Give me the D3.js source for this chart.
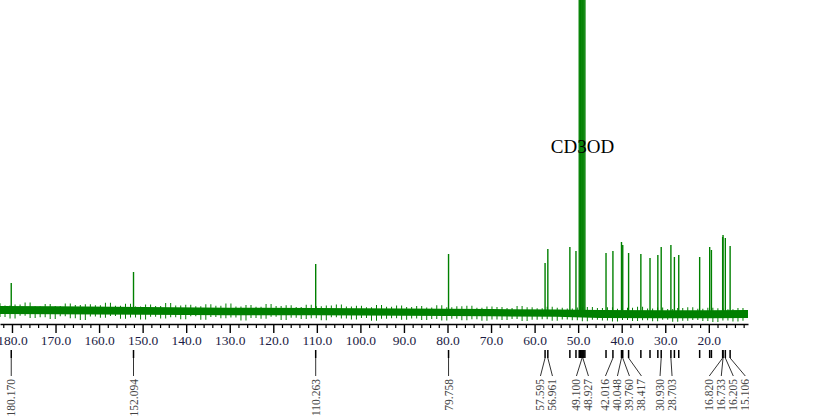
<!DOCTYPE html>
<html>
<head>
<meta charset="utf-8">
<script src="https://d3js.org/d3.v7.min.js"></script>
<style>
body { margin: 0; background: white; }
text { font-family: "Liberation Serif", "Times New Roman", serif; }
</style>
</head>
<body onload="init()">
<div id="dataviz"></div>

<script>
// peaks: shift (ppm) and height (arbitrary units, baseline = 0)
var peakPpm    = [180.170, 152.094, 110.263, 79.758, 57.595, 56.961, 51.9, 50.5,
                  49.75, 49.50, 49.30, 49.100, 48.927, 48.70, 48.45,
                  43.6, 42.016, 40.048, 39.760, 38.417, 35.6, 33.5, 31.7, 30.930,
                  28.703, 27.9, 26.9, 22.1, 19.8, 19.4, 16.820, 16.733, 16.205, 15.106];
var peakHeight = [11.2, 15.6, 18.8, 22.8, 19.2, 24.8, 25.6, 24.0,
                  200, 260, 300, 320, 320, 280, 200,
                  23.2, 24.0, 27.6, 26.4, 23.2, 22.8, 21.2, 22.4, 25.6,
                  26.4, 21.6, 22.4, 21.6, 25.6, 24.4, 29.6, 30.4, 29.2, 26.0];

// peaks that carry a printed value under the axis
var labelPpm  = [180.170, 152.094, 110.263, 79.758, 57.595, 56.961, 49.100, 48.927,
                 42.016, 40.048, 39.760, 38.417, 30.930, 28.703, 16.820, 16.733, 16.205, 15.106];
var labelText = ["180.170", "152.094", "110.263", "79.758", "57.595", "56.961", "49.100", "48.927",
                 "42.016", "40.048", "39.760", "38.417", "30.930", "28.703", "16.820", "16.733", "16.205", "15.106"];

// axis ticks
var majorTicks = [180, 170, 160, 150, 140, 130, 120, 110, 100, 90, 80, 70, 60, 50, 40, 30, 20];

// baseline noise band (core), and noise samples across the spectrum
var bandPpm = [183, 170, 150, 130, 110, 90, 70, 55, 45, 30, 20, 11];
var bandTop = [2.0, 1.9, 1.6, 1.3, 1.2, 1.0, 0.8, 0.6, 0.4, 0.3, 0.3, 0.4];
var bandBot = [-1.2, -1.3, -1.5, -1.7, -1.7, -1.9, -2.1, -2.3, -2.8, -2.9, -2.9, -2.8];
var noise = [
  3.1, -2.4, 2.2, -3.0, 2.6, -1.9, 3.4, -2.8, 1.9, -2.5,
  2.8, -3.2, 2.0, -2.1, 3.0, -2.9, 2.4, -3.6, 2.7, -2.2,
  2.3, -2.7, 3.3, -2.0, 2.1, -3.1, 2.9, -2.6, 1.8, -3.4,
  2.6, -2.3, 2.0, -3.0, 3.2, -2.5, 2.2, -3.3, 2.5, -2.1,
  1.9, -3.5, 2.7, -2.4, 2.1, -2.9, 3.0, -2.6, 1.8, -3.8,
  2.4, -2.8, 1.7, -3.1, 2.8, -2.3, 2.0, -3.6, 2.3, -2.7,
  1.6, -3.2, 2.5, -2.9, 1.9, -3.7, 2.2, -2.5, 2.6, -3.0,
  1.8, -3.4, 2.1, -2.8, 1.5, -3.9, 2.4, -3.1, 1.7, -2.9,
  2.2, -3.5, 1.6, -3.0, 2.0, -3.6, 1.4, -3.2, 2.3, -3.8,
  1.5, -3.1, 1.9, -3.7, 2.1, -3.3, 1.3, -3.9, 1.8, -3.4,
  1.6, -3.6, 1.2, -3.2, 2.0, -4.0, 1.5, -3.5, 1.1, -3.3,
  1.7, -3.9, 1.3, -3.4, 1.0, -3.7, 1.4, -4.1, 1.6, -3.5,
  1.2, -3.8, 1.5, -4.2, 0.9, -3.6, 1.3, -4.0, 1.7, -3.7,
  1.0, -4.1, 1.4, -3.5, 0.8, -4.3, 1.2, -3.9, 1.5, -3.6,
  0.9, -4.0, 1.3, -4.4, 1.1, -3.8, 0.7, -4.2, 1.2, -3.9
];

function init() {
  var width = 833, height = 420;
  var green = "#008000";

  var svg = d3.select("#dataviz")
    .append("svg")
    .attr("width", width)
    .attr("height", height);

  // everything right of the plot edge is cut off
  svg.append("clipPath").attr("id", "clip")
    .append("rect").attr("x", 0).attr("y", 0).attr("width", 749).attr("height", height);

  var g = svg.append("g").attr("clip-path", "url(#clip)");

  var xscale = d3.scaleLinear().domain([182.75, 11]).range([0, 748]);
  var yscale = d3.scaleLinear().domain([0, 120]).range([311, 11]);

  // noise band core
  var band = bandPpm.map(function(p, i) { return {ppm: p, top: bandTop[i], bot: bandBot[i]}; });
  g.append("path")
    .datum(band)
    .attr("fill", green)
    .attr("d", d3.area()
      .x(function(d) { return xscale(d.ppm); })
      .y0(function(d) { return yscale(d.bot); })
      .y1(function(d) { return yscale(d.top); }));

  // noise samples as thin vertical strokes between neighbouring samples
  var step = (182.75 - 11) / (noise.length - 1);
  g.selectAll("line.noise")
    .data(noise.slice(0, -1))
    .enter().append("line")
    .attr("class", "noise")
    .attr("x1", function(d, i) { return xscale(182.75 - i * step); })
    .attr("x2", function(d, i) { return xscale(182.75 - i * step); })
    .attr("y1", function(d) { return yscale(d); })
    .attr("y2", function(d, i) { return yscale(noise[i + 1]); })
    .attr("stroke", green)
    .attr("stroke-width", 1);

  // peaks
  g.selectAll("line.peak")
    .data(peakPpm)
    .enter().append("line")
    .attr("class", "peak")
    .attr("x1", function(d) { return xscale(d); })
    .attr("x2", function(d) { return xscale(d); })
    .attr("y1", yscale(-1))
    .attr("y2", function(d, i) { return yscale(peakHeight[i]); })
    .attr("stroke", green)
    .attr("stroke-width", 1.4);

  // solvent label
  svg.append("text")
    .attr("x", xscale(49.0))
    .attr("y", 153)
    .attr("text-anchor", "middle")
    .style("font-size", "19px")
    .style("fill", "#000")
    .text("CD3OD");

  // x axis
  var axisY = 324;
  var minorTicks = d3.range(182, 10, -2).filter(function(t) { return t % 10 != 0; });
  g.append("g")
    .attr("transform", "translate(0," + axisY + ")")
    .call(d3.axisBottom(xscale).tickValues(minorTicks).tickSize(4).tickSizeOuter(0).tickFormat(""))
    .call(function(a) { a.select(".domain").remove(); })
    .selectAll("line").attr("stroke", "#000").attr("stroke-width", 1.2);

  var ax = g.append("g")
    .attr("transform", "translate(0," + axisY + ")")
    .call(d3.axisBottom(xscale).tickValues(majorTicks).tickSize(9).tickSizeOuter(0)
      .tickPadding(2).tickFormat(d3.format(".1f")));
  ax.select(".domain").attr("stroke", "#000").attr("stroke-width", 1.5);
  ax.selectAll("line").attr("stroke", "#000").attr("stroke-width", 1.4);
  ax.selectAll("text")
    .style("font-family", "'Liberation Serif', serif")
    .style("font-size", "13.5px")
    .style("fill", "#1c1c44");

  // peak markers under the axis
  g.selectAll("line.mark")
    .data(peakPpm)
    .enter().append("line")
    .attr("class", "mark")
    .attr("x1", function(d) { return xscale(d); })
    .attr("x2", function(d) { return xscale(d); })
    .attr("y1", 350)
    .attr("y2", 358)
    .attr("stroke", "#000")
    .attr("stroke-width", 1.5);

  // spread labels so they do not overlap (groups centred on their peaks)
  var gap = 12;
  var pos = labelPpm.map(function(p) { return xscale(p); });
  var groups = [];
  pos.forEach(function(x, i) {
    var last = groups[groups.length - 1];
    if (last && x - pos[last[last.length - 1]] < gap) last.push(i); else groups.push([i]);
  });
  var lx = pos.slice();
  groups.forEach(function(grp) {
    var c = d3.mean(grp, function(i) { return pos[i]; });
    if (grp.length > 3) c += 2;
    grp.forEach(function(i, k) { lx[i] = c + (k - (grp.length - 1) / 2) * gap; });
  });

  g.selectAll("line.leader")
    .data(labelPpm)
    .enter().append("line")
    .attr("class", "leader")
    .attr("x1", function(d) { return xscale(d); })
    .attr("y1", 358)
    .attr("x2", function(d, i) { return lx[i]; })
    .attr("y2", 376)
    .attr("stroke", "#333")
    .attr("stroke-width", 1);

  g.selectAll("text.plabel")
    .data(labelText)
    .enter().append("text")
    .attr("class", "plabel")
    .attr("transform", function(d, i) { return "translate(" + lx[i] + ",379) rotate(-90)"; })
    .attr("dy", "0.35em")
    .attr("text-anchor", "end")
    .style("font-size", "11.5px")
    .style("fill", "#444")
    .text(function(d) { return d; });
}
</script>
</body>
</html>
